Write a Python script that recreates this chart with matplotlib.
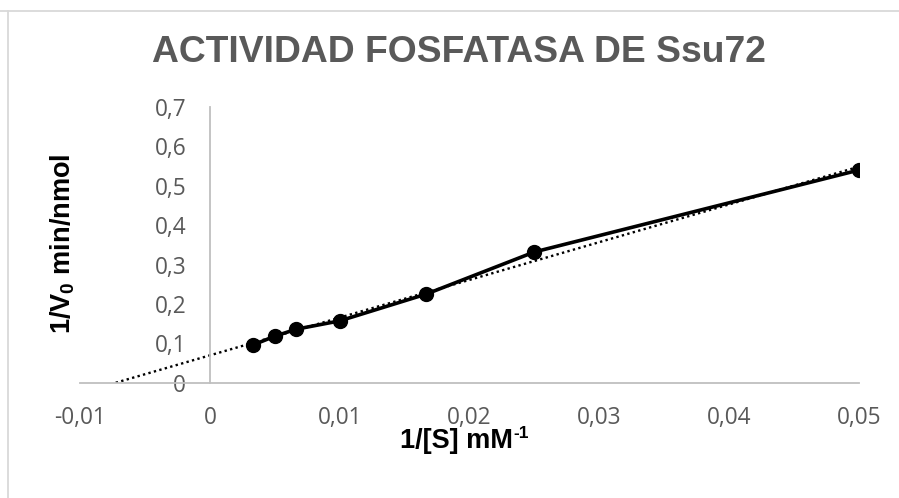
import matplotlib
matplotlib.use("Agg")
import matplotlib.pyplot as plt
from matplotlib.lines import Line2D
from matplotlib.ticker import FuncFormatter
import numpy as np

# datos (1/[S] y 1/V0)
inv_s = [1/300, 1/200, 1/150, 1/100, 1/60, 1/40, 1/20]
inv_v = [0.096, 0.118, 0.136, 0.157, 0.225, 0.332, 0.540]
x_ticks = [-0.01, 0, 0.01, 0.02, 0.03, 0.04, 0.05]
y_ticks = [0, 0.1, 0.2, 0.3, 0.4, 0.5, 0.6, 0.7]

plt.rcParams['font.family'] = ['Open Sans', 'DejaVu Sans']
plt.rcParams['mathtext.fontset'] = 'custom'
plt.rcParams['mathtext.rm'] = 'Liberation Sans:bold'
plt.rcParams['mathtext.bf'] = 'Liberation Sans:bold'

fig = plt.figure(figsize=(8.99, 4.98), dpi=100)
ax = fig.add_axes([0.089, 0.2315, 0.8665, 0.5536])

for s in ['top', 'right']:
    ax.spines[s].set_visible(False)
ax.spines['left'].set_position(('data', 0))
for s in ['left', 'bottom']:
    ax.spines[s].set_color('#bfbfbf')
    ax.spines[s].set_linewidth(1.3)

# linea de tendencia (regresion lineal, extendida hacia atras hasta y=0)
m, b = np.polyfit(inv_s, inv_v, 1)
x0 = -b / m
ax.plot([x0, inv_s[-1]], [0, m * inv_s[-1] + b], color='black',
        linestyle=(0, (1, 1.4)), linewidth=1.7, zorder=2)

ax.plot(inv_s, inv_v, color='black', linewidth=2.6, marker='o',
        markersize=10, zorder=3)

coma = FuncFormatter(lambda v, p: ('%g' % round(v, 4)).replace('.', ','))
ax.set_xlim(-0.01, 0.05)
ax.set_ylim(0, 0.7)
ax.set_xticks(x_ticks)
ax.set_yticks(y_ticks)
ax.xaxis.set_major_formatter(coma)
ax.yaxis.set_major_formatter(coma)
ax.tick_params(axis='both', length=0, labelsize=16.3, labelcolor='#595959')
ax.tick_params(axis='y', pad=17)
ax.tick_params(axis='x', pad=17)

fig.text(0.511, 1 - 52 / 498, 'ACTIVIDAD FOSFATASA DE Ssu72', ha='center',
         va='center', family='Liberation Sans', weight='bold', fontsize=26.8,
         color='#595959')
xl = fig.text(400 / 899, 1 - 441 / 498, '1/[S] mM', ha='left',
              va='center', family='Liberation Sans', weight='bold',
              fontsize=19.5, color='black')
ax.annotate('-1', xy=(1, 0.78), xycoords=xl, ha='left', va='center',
            family='Liberation Sans', weight='bold', fontsize=12.5,
            color='black', annotation_clip=False)
fig.text(63 / 899, 1 - 244 / 498, r'1/V$_{\mathrm{0}}$ min/nmol', ha='center',
         va='center', rotation=90, family='Liberation Sans', weight='bold',
         fontsize=19.5, color='black')

# borde del area del grafico
fig.add_artist(Line2D([0, 1], [1 - 11 / 498, 1 - 11 / 498],
                      transform=fig.transFigure, color='#d9d9d9', linewidth=1.3))
fig.add_artist(Line2D([7.5 / 899, 7.5 / 899], [0, 1 - 11 / 498],
                      transform=fig.transFigure, color='#d9d9d9', linewidth=1.3))

fig.savefig('out.png', dpi=100, facecolor='white')
